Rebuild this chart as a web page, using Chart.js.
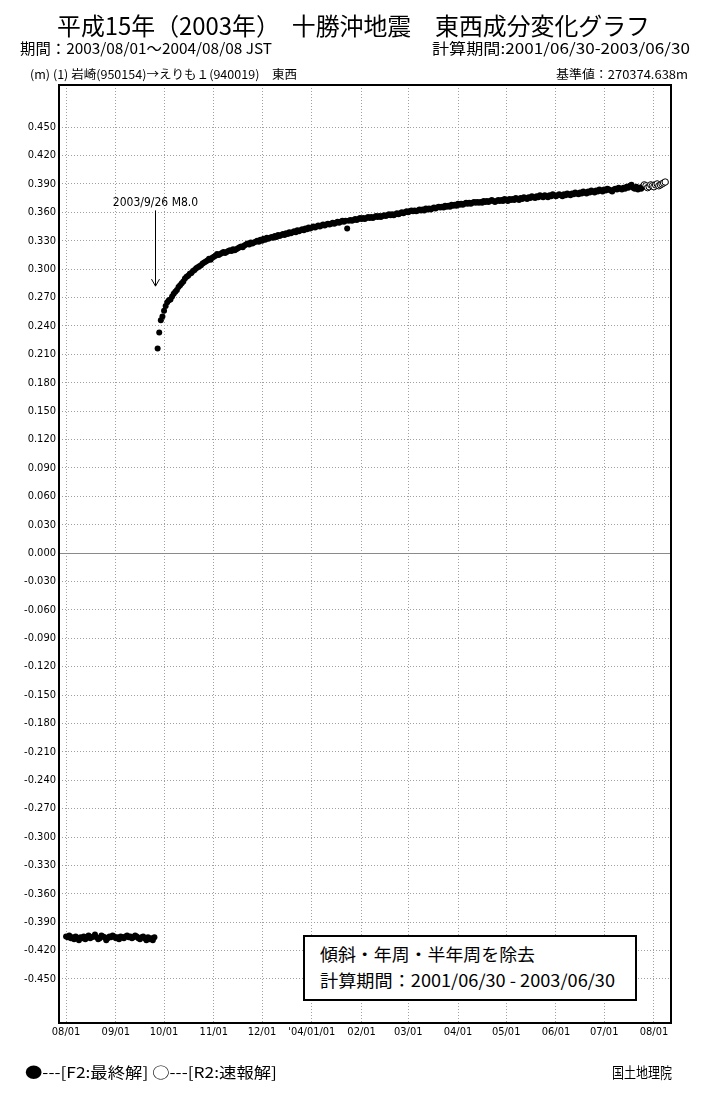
<!DOCTYPE html>
<html><head><meta charset="utf-8">
<script src="https://cdn.jsdelivr.net/npm/chart.js@4.4.1/dist/chart.umd.min.js"></script>
<style>
html,body{margin:0;padding:0;background:#fff;}
#wrap{position:relative;width:709px;height:1100px;overflow:hidden;background:#fff;}
#c{position:absolute;left:0;top:0;}
.t{position:absolute;white-space:nowrap;color:#000;font-family:"Noto Sans CJK JP","Noto Sans",sans-serif;line-height:1;}
#box{position:absolute;left:303px;top:935px;width:330px;height:62px;border:2px solid #000;background:#fff;}
</style></head><body>
<div id="wrap">
<canvas id="c" width="709" height="1100"></canvas>
<div id="box"></div>
<div class="t" data-x="57" data-w="593" data-cy="25" data-fs="24">平成15年（2003年）　十勝沖地震　東西成分変化グラフ</div>
<div class="t" data-x="20" data-w="252" data-cy="47" data-fs="15">期間：2003/08/01～2004/08/08 JST</div>
<div class="t" data-r="690" data-w="258" data-cy="47" data-fs="15">計算期間:2001/06/30-2003/06/30</div>
<div class="t" data-x="30" data-w="267" data-cy="74" data-fs="12">(m) (1) 岩崎(950154)→えりも１(940019)　東西</div>
<div class="t" data-r="688" data-w="132" data-cy="74" data-fs="12">基準値：270374.638m</div>
<div class="t" data-x="320" data-w="215" data-cy="953" data-fs="17">傾斜・年周・半年周を除去</div>
<div class="t" data-x="320" data-w="295" data-cy="979" data-fs="17">計算期間：2001/06/30 - 2003/06/30</div>
<div class="t" data-x="25" data-w="252" data-cy="1071" data-fs="15">●---[F2:最終解] ○---[R2:速報解]</div>
<div class="t" data-r="672" data-w="60" data-cy="1071" data-fs="15">国土地理院</div>
</div>
<script>
// ---- data ----
const baseDate = '2003-08-01';
const monthTickDates = ['2003-08-01','2003-09-01','2003-10-01','2003-11-01','2003-12-01','2004-01-01','2004-02-01','2004-03-01','2004-04-01','2004-05-01','2004-06-01','2004-07-01','2004-08-01'];
const xTickLabels = ['08/01','09/01','10/01','11/01','12/01',"'04/01/01",'02/01','03/01','04/01','05/01','06/01','07/01','08/01'];
const yTickLabels = ['0.450','0.420','0.390','0.360','0.330','0.300','0.270','0.240','0.210','0.180','0.150','0.120','0.090','0.060','0.030','0.000','-0.030','-0.060','-0.090','-0.120','-0.150','-0.180','-0.210','-0.240','-0.270','-0.300','-0.330','-0.360','-0.390','-0.420','-0.450'];

// F2 final solution, daily, before the earthquake (from 2003-08-01)
const preStart = '2003-08-01';
const preValues = [
 -0.405,-0.406,-0.404,-0.407,-0.406,-0.408,-0.405,-0.407,
 -0.409,-0.406,-0.407,-0.405,-0.408,-0.406,-0.404,-0.407,
 -0.406,-0.405,-0.403,-0.406,-0.408,-0.407,-0.404,-0.405,
 -0.406,-0.409,-0.407,-0.405,-0.406,-0.404,-0.405,-0.407,
 -0.406,-0.408,-0.405,-0.406,-0.407,-0.405,-0.404,-0.406,
 -0.405,-0.407,-0.406,-0.404,-0.405,-0.407,-0.408,-0.406,
 -0.405,-0.407,-0.409,-0.406,-0.408,-0.407,-0.409,-0.406];

// F2 final solution, daily, after the earthquake (from 2003-09-27)
const postStart = '2003-09-27';
const postValues = [
 0.216,0.233,0.246,0.250,0.256,0.261,0.265,0.267,0.268,0.271,
 0.274,0.276,0.278,0.281,0.283,0.285,0.287,0.290,0.292,0.293,
 0.295,0.296,0.298,0.299,0.301,0.302,0.303,0.304,0.306,0.307,
 0.308,0.309,0.311,0.310,0.312,0.313,0.314,0.316,0.315,0.316,
 0.317,0.318,0.317,0.318,0.319,0.320,0.319,0.321,0.320,0.321,
 0.322,0.323,0.324,0.323,0.325,0.326,0.327,0.326,0.328,0.327,
 0.328,0.329,0.330,0.329,0.331,0.330,0.332,0.331,0.333,0.332,
 0.333,0.334,0.333,0.335,0.334,0.336,0.335,0.336,0.337,0.336,
 0.338,0.337,0.339,0.338,0.339,0.340,0.339,0.341,0.340,0.341,
 0.342,0.341,0.343,0.342,0.344,0.343,0.344,0.345,0.344,0.345,
 0.346,0.345,0.346,0.347,0.346,0.347,0.348,0.347,0.348,0.349,
 0.348,0.349,0.350,0.349,0.350,0.351,0.350,0.351,0.343,0.351,
 0.352,0.351,0.352,0.353,0.352,0.353,0.354,0.353,0.354,0.353,
 0.354,0.355,0.354,0.355,0.354,0.355,0.356,0.355,0.356,0.355,
 0.356,0.357,0.356,0.357,0.358,0.357,0.358,0.357,0.358,0.359,
 0.358,0.359,0.360,0.359,0.360,0.361,0.360,0.361,0.362,0.361,
 0.362,0.361,0.362,0.363,0.362,0.363,0.362,0.364,0.363,0.364,
 0.363,0.364,0.365,0.364,0.365,0.366,0.365,0.366,0.365,0.367,
 0.366,0.367,0.366,0.368,0.367,0.368,0.367,0.369,0.368,0.369,
 0.368,0.369,0.370,0.369,0.370,0.369,0.370,0.371,0.370,0.371,
 0.370,0.371,0.370,0.372,0.371,0.372,0.371,0.372,0.373,0.372,
 0.371,0.372,0.373,0.372,0.373,0.372,0.374,0.373,0.372,0.374,
 0.373,0.374,0.373,0.375,0.374,0.373,0.375,0.374,0.376,0.375,
 0.374,0.376,0.375,0.377,0.376,0.375,0.377,0.376,0.378,0.377,
 0.376,0.378,0.377,0.376,0.378,0.377,0.379,0.378,0.377,0.378,
 0.379,0.378,0.377,0.379,0.378,0.380,0.379,0.378,0.380,0.379,
 0.381,0.380,0.379,0.381,0.380,0.382,0.381,0.380,0.382,0.381,
 0.383,0.382,0.381,0.383,0.382,0.384,0.383,0.382,0.384,0.383,
 0.385,0.384,0.383,0.382,0.384,0.385,0.384,0.386,0.385,0.384,
 0.386,0.385,0.387,0.386,0.388,0.389,0.386,0.385,0.387,0.384,
 0.386,0.385];

// R2 rapid solution, daily (from 2004-07-25)
const r2Start = '2004-07-25';
const r2Values = [0.387,0.389,0.388,0.386,0.387,0.389,0.388,0.387,0.389,0.390,0.388,0.389,0.390,0.391,0.392];

const quakeDate = '2003-09-26';
const quakeLabel = '2003/9/26 M8.0';

// ---- helpers ----
function dayOf(s){const p=s.split('-').map(Number);const b=baseDate.split('-').map(Number);
  return (Date.UTC(p[0],p[1]-1,p[2])-Date.UTC(b[0],b[1]-1,b[2]))/864e5;}
function series(start, vals){const d0=dayOf(start);return vals.map((v,i)=>({x:d0+i,y:v}));}
const monthTicks = monthTickDates.map(dayOf);
const yTicks = yTickLabels.map(parseFloat);
const NUMFONT = '"DejaVu Sans Condensed","Liberation Sans Narrow","DejaVu Sans",sans-serif';

const framePlugin = {
  id:'frame',
  beforeDatasetsDraw(chart){
    const {ctx, chartArea:a, scales:{x,y}} = chart;
    ctx.save();
    ctx.strokeStyle='#8a8a8a'; ctx.lineWidth=1; ctx.setLineDash([]);
    const y0=Math.round(y.getPixelForValue(0))+0.5;
    ctx.beginPath(); ctx.moveTo(a.left,y0); ctx.lineTo(a.right,y0); ctx.stroke();
    const qx=Math.round(x.getPixelForValue(dayOf(quakeDate)-0.5))+0.5;
    const yt=y.getPixelForValue(0.362), yb=y.getPixelForValue(0.282);
    ctx.strokeStyle='#000'; ctx.lineWidth=1;
    ctx.beginPath(); ctx.moveTo(qx,yt); ctx.lineTo(qx,yb);
    ctx.moveTo(qx-4,yb-7); ctx.lineTo(qx,yb); ctx.lineTo(qx+4,yb-7); ctx.stroke();
    ctx.fillStyle='#000'; ctx.font='12px '+NUMFONT; ctx.textAlign='center'; ctx.textBaseline='bottom';
    ctx.fillText(quakeLabel, qx, yt-2);
    ctx.restore();
  },
  afterDraw(chart){
    const {ctx, chartArea:a} = chart;
    ctx.save(); ctx.strokeStyle='#000'; ctx.lineWidth=2; ctx.setLineDash([]);
    ctx.strokeRect(a.left, a.top, a.right-a.left, a.bottom-a.top);
    ctx.restore();
  }
};

new Chart(document.getElementById('c'), {
  type:'scatter',
  data:{datasets:[
    {label:'F2 pre', data:series(preStart,preValues), pointRadius:3, pointBackgroundColor:'#000', pointBorderWidth:0},
    {label:'F2 post', data:series(postStart,postValues), pointRadius:3, pointBackgroundColor:'#000', pointBorderWidth:0},
    {label:'R2', data:series(r2Start,r2Values), pointRadius:3.2, pointBackgroundColor:'#fff', pointBorderColor:'#000', pointBorderWidth:1}
  ]},
  options:{
    responsive:false, animation:false, events:[],
    layout:{padding:{top:85,right:38,left:0,bottom:0}},
    plugins:{legend:{display:false}, tooltip:{enabled:false}},
    scales:{
      x:{type:'linear', min:-4.4, max:376.6,
        afterBuildTicks:s=>{s.ticks=monthTicks.map(v=>({value:v}));},
        afterFit:s=>{s.height=77;},
        ticks:{autoSkip:false, maxRotation:0, minRotation:0, padding:3, color:'#000',
          font:{family:NUMFONT,size:11},
          callback:(v,i)=>xTickLabels[i]},
        grid:{color:'#a0a0a0', lineWidth:1, drawTicks:false},
        border:{display:false, dash:[1,2]}
      },
      y:{min:-0.4965, max:0.4945,
        afterBuildTicks:s=>{s.ticks=yTicks.map(v=>({value:v}));},
        afterFit:s=>{s.width=59;},
        ticks:{padding:3, color:'#000', font:{family:NUMFONT,size:11},
          callback:(v,i)=>yTickLabels[i]},
        grid:{color:'#a0a0a0', lineWidth:1, drawTicks:false},
        border:{display:false, dash:(c)=> (c.tick && Math.abs(c.tick.value)<1e-9) ? [] : [1,2]}
      }
    }
  },
  plugins:[framePlugin]
});

function layoutText(){
  document.querySelectorAll('.t').forEach(el=>{
    const fs=+el.dataset.fs; el.style.fontSize=fs+'px';
    el.style.transform='none';
    const w=el.getBoundingClientRect().width; const tw=+el.dataset.w;
    const s=tw/w;
    el.style.top=(+el.dataset.cy - fs/2)+'px';
    el.style.left=(el.dataset.r ? (+el.dataset.r - tw) : +el.dataset.x)+'px';
    el.style.transformOrigin='left center';
    el.style.transform='scaleX('+s.toFixed(4)+')';
  });
}
layoutText();
if(document.fonts && document.fonts.ready) document.fonts.ready.then(layoutText);
</script>
</body></html>
